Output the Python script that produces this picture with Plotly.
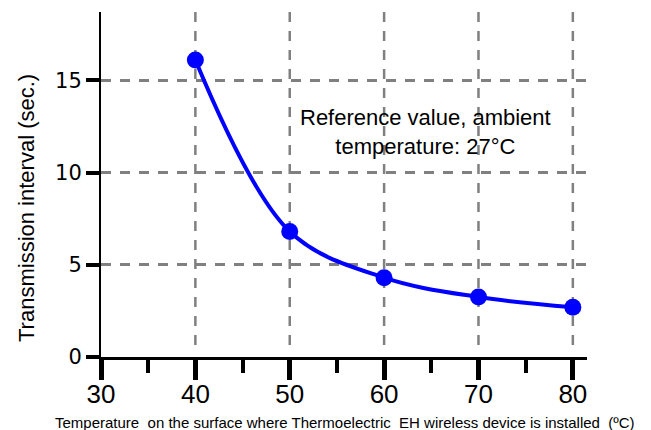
import plotly.graph_objects as go

# Surface temperature (deg C) vs. transmission interval (s)
temperature_c = [40, 50, 60, 70, 80]
interval_s = [16.1, 6.8, 4.3, 3.25, 2.7]

x_ticks = [30, 40, 50, 60, 70, 80]
y_ticks = [0, 5, 10, 15]
x_grid = [40, 50, 60, 70, 80]

X_RANGE = [30, 81.5]
Y_RANGE = [0, 18.7]

W, H = 651, 430
M = dict(l=101, r=64, t=12, b=73)
PLOT_W = W - M["l"] - M["r"]
PLOT_H = H - M["t"] - M["b"]


def px_to_paper(px, py):
    """Convert page pixel position to plot-area paper coordinates."""
    return (px - M["l"]) / PLOT_W, (H - M["b"] - py) / PLOT_H


GRID = dict(color="#808080", width=2.5, dash="10px,9px")

fig = go.Figure()

fig.add_trace(go.Scatter(
    x=temperature_c,
    y=interval_s,
    mode="lines+markers",
    line=dict(color="#0000FF", width=4, shape="spline", smoothing=1.0),
    marker=dict(color="#0000FF", size=17),
    showlegend=False,
    cliponaxis=False,
))

# vertical dashed grid, stopping just short of the x axis
for gx in x_grid:
    fig.add_shape(type="line", xref="x", yref="y",
                  x0=gx, x1=gx, y0=Y_RANGE[1], y1=0.55,
                  line=GRID, layer="below")

fig.add_annotation(
    x=64.4, y=12.2, xref="x", yref="y",
    text="Reference value, ambient<br>temperature: 27°C",
    showarrow=False,
    font=dict(family="Liberation Sans, Arial", size=22, color="black"),
    align="center",
)

# axis titles
tx, ty = px_to_paper(345, 422)
fig.add_annotation(
    x=tx, y=ty, xref="paper", yref="paper",
    xanchor="center", yanchor="middle",
    text="Temperature  on the surface where Thermoelectric  EH wireless device is installed  (ºC)",
    showarrow=False,
    font=dict(family="Liberation Sans, Arial", size=15, color="black"),
)
tx, ty = px_to_paper(26, 208)
fig.add_annotation(
    x=tx, y=ty, xref="paper", yref="paper",
    xanchor="center", yanchor="middle", textangle=-90,
    text="Transmission interval (sec.)",
    showarrow=False,
    font=dict(family="Liberation Sans, Arial", size=22, color="black"),
)

fig.update_layout(
    width=W, height=H,
    margin=M,
    paper_bgcolor="white",
    plot_bgcolor="white",
    xaxis=dict(
        range=X_RANGE, automargin=False,
        tickmode="array", tickvals=x_ticks, ticktext=[str(v) for v in x_ticks],
        showgrid=False, zeroline=False,
        showline=True, linecolor="black", linewidth=3,
        ticks="outside", ticklen=20, tickwidth=5, tickcolor="black",
        ticklabelstandoff=-8,
        minor=dict(dtick=5, tick0=30, ticks="outside", ticklen=13, tickwidth=4,
                   tickcolor="black", showgrid=False),
        tickfont=dict(family="Liberation Sans, Arial", size=26, color="black"),
    ),
    yaxis=dict(
        range=Y_RANGE, automargin=False,
        tickmode="array", tickvals=y_ticks, ticktext=[str(v) for v in y_ticks],
        showgrid=True, gridcolor=GRID["color"], gridwidth=GRID["width"], griddash=GRID["dash"],
        zeroline=False,
        showline=True, linecolor="black", linewidth=2,
        ticks="outside", ticklen=13, tickwidth=4, tickcolor="black",
        tickfont=dict(family="DejaVu Sans, Verdana", size=21, color="black"),
    ),
)

fig.write_html("out.html")
